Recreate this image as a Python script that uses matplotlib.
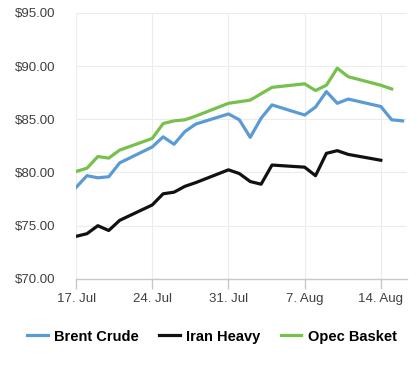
import pandas as pd
import matplotlib
matplotlib.use('Agg')
from matplotlib import pyplot as plt

brent_dates = ['2017-07-17', '2017-07-18', '2017-07-19', '2017-07-20', '2017-07-21',
               '2017-07-24', '2017-07-25', '2017-07-26', '2017-07-27', '2017-07-28',
               '2017-07-31', '2017-08-01', '2017-08-02', '2017-08-03', '2017-08-04',
               '2017-08-07', '2017-08-08', '2017-08-09', '2017-08-10', '2017-08-11',
               '2017-08-14', '2017-08-15', '2017-08-16']
brent = [78.6, 79.7, 79.5, 79.6, 80.9,
         82.4, 83.35, 82.65, 83.85, 84.55,
         85.5, 84.95, 83.3, 85.1, 86.35,
         85.4, 86.15, 87.6, 86.5, 86.9,
         86.2, 84.95, 84.85]

opec_dates = brent_dates[:22]
opec = [80.1, 80.4, 81.5, 81.35, 82.1,
        83.2, 84.6, 84.85, 84.95, 85.3,
        86.5, 86.65, 86.8, 87.4, 88.0,
        88.33, 87.7, 88.2, 89.8, 89.0,
        88.2, 87.85]

iran_dates = brent_dates[:21]
iran = [74.0, 74.25, 75.0, 74.55, 75.5,
        76.95, 78.0, 78.15, 78.7, 79.05,
        80.25, 79.9, 79.15, 78.9, 80.7,
        80.5, 79.7, 81.8, 82.05, 81.7,
        81.15]

tick_dates = ['2017-07-17', '2017-07-24', '2017-07-31', '2017-08-07', '2017-08-14']
tick_labels = ['17. Jul', '24. Jul', '31. Jul', '7. Aug', '14. Aug']
y_ticks = [70, 75, 80, 85, 90, 95]

plt.rcParams['font.family'] = ['Liberation Sans', 'DejaVu Sans']

fig = plt.figure(figsize=(4.18, 3.67), dpi=100)
ax = fig.add_axes([0.182, 0.240, 0.792, 0.725])

ax.plot(pd.to_datetime(brent_dates), brent, color='#5b9bd5', lw=2.3, label='Brent Crude')
ax.plot(pd.to_datetime(iran_dates), iran, color='#111111', lw=2.3, label='Iran Heavy')
ax.plot(pd.to_datetime(opec_dates), opec, color='#77c04b', lw=2.3, label='Opec Basket')

ax.set_ylim(70, 95)
ax.set_yticks(y_ticks)
ax.set_yticklabels(['$%.2f' % v for v in y_ticks])
ax.set_xlim(pd.Timestamp('2017-07-17'), pd.Timestamp('2017-08-16 10:00'))
ax.set_xticks(pd.to_datetime(tick_dates))
ax.set_xticklabels(tick_labels)

ax.grid(True, color='#ececec', lw=0.8)
ax.set_axisbelow(True)
for s in ['top', 'right', 'left']:
    ax.spines[s].set_visible(False)
ax.spines['bottom'].set_color('#c8c8c8')
ax.spines['bottom'].set_linewidth(1.0)

ax.tick_params(axis='y', length=0, pad=15, labelsize=9.5, labelcolor='#3f3f3f')
ax.tick_params(axis='x', length=7, width=1.0, color='#c8c8c8', pad=3,
               labelsize=9.5, labelcolor='#3f3f3f')

fig.legend(loc='center', bbox_to_anchor=(0.507, 0.083), ncol=3, frameon=False,
           prop={'weight': 'bold', 'size': 10.5}, handlelength=1.4,
           handletextpad=0.45, columnspacing=1.4)

fig.savefig('out.png', dpi=100)
